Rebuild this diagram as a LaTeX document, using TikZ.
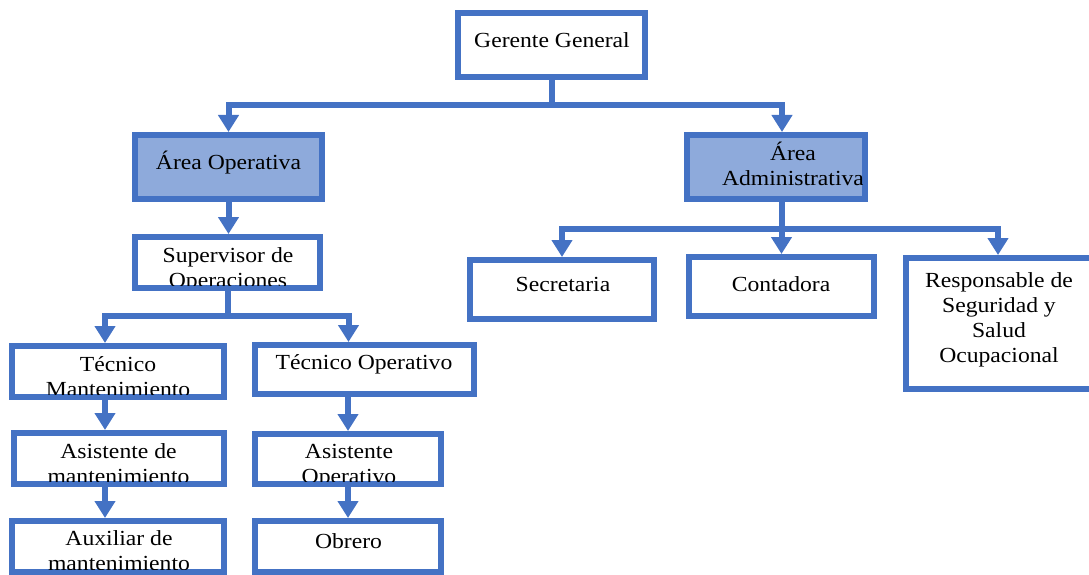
\documentclass[tikz,border=0pt]{standalone}
\usepackage{fontspec}
\setmainfont{Liberation Serif}[FakeStretch=1.1]
\usetikzlibrary{arrows.meta}
\definecolor{orgblue}{HTML}{4472C4}
\definecolor{areafill}{HTML}{8EAADB}
% fixed height for the first line of every label
\newcommand\firstline{\rule{0pt}{20pt}}
% label of a box, clipped to the inside of its border:
% #1 box name, #2 label name, #3 position of the label top, #4 text
\newcommand\boxlabel[4]{%
  \begin{scope}
    \clip ([shift={(6pt,-6pt)}]#1.north west) rectangle ([shift={(-6pt,6pt)}]#1.south east);
    \node[lbl] (#2) at (#3) {\firstline #4};
  \end{scope}}
\tikzset{
  box/.style={draw=orgblue, line width=6pt, fill=white, inner sep=0pt},
  area/.style={box, fill=areafill},
  lbl/.style={inner sep=0pt, align=center, anchor=north, font=\fontsize{21.5}{25}\selectfont},
  link/.style={draw=orgblue, line width=6pt},
  arrow/.style={link, -{Triangle[width=20pt,length=17pt]}},
}
\begin{document}
\begin{tikzpicture}[x=1pt,y=-1pt]
\useasboundingbox (0,0) rectangle (1089,575);
\clip (0,0) rectangle (1089,575);

% top level
\node[box, minimum width=187pt, minimum height=64pt] (gg) at (551.5,45) {};
\boxlabel{gg}{gg-t}{552,27}{Gerente General}

% areas
\node[area, minimum width=187pt, minimum height=64pt] (ao) at (228.5,167) {};
\boxlabel{ao}{ao-t}{228.5,149}{Área Operativa}
\node[area, minimum width=178pt, minimum height=64pt] (aa) at (776,167) {};
\boxlabel{aa}{aa-t}{793,140}{Área\\Administrativa}

% operative branch
\node[box, minimum width=185pt, minimum height=51pt] (sup) at (227.5,262.5) {};
\boxlabel{sup}{sup-t}{228,242}{Supervisor de\\Operaciones}
\node[box, minimum width=212pt, minimum height=51pt] (tm) at (118,371.5) {};
\boxlabel{tm}{tm-t}{118,351}{Técnico\\Mantenimiento}
\node[box, minimum width=210pt, minimum height=51pt] (am) at (119,458.5) {};
\boxlabel{am}{am-t}{118.5,438}{Asistente de\\mantenimiento}
\node[box, minimum width=212pt, minimum height=51pt] (ax) at (118,546.5) {};
\boxlabel{ax}{ax-t}{119,525}{Auxiliar de\\mantenimiento}
\node[box, minimum width=219pt, minimum height=49pt] (to) at (364.5,369.5) {};
\boxlabel{to}{to-t}{364,349}{Técnico Operativo}
\node[box, minimum width=186pt, minimum height=50pt] (ao2) at (348,459) {};
\boxlabel{ao2}{ao2-t}{349,438}{Asistente\\Operativo}
\node[box, minimum width=186pt, minimum height=51pt] (ob) at (348,546.5) {};
\boxlabel{ob}{ob-t}{348.5,528}{Obrero}

% administrative branch
\node[box, minimum width=184pt, minimum height=59pt] (sec) at (562,289.5) {};
\boxlabel{sec}{sec-t}{563,271}{Secretaria}
\node[box, minimum width=185pt, minimum height=59pt] (con) at (781.5,286.5) {};
\boxlabel{con}{con-t}{781,271}{Contadora}
\node[box, minimum width=188pt, minimum height=131pt] (rsp) at (1000,323.5) {};
\boxlabel{rsp}{rsp-t}{999,267}{Responsable de\\Seguridad y\\Salud\\Ocupacional}

% connectors from the general manager
\coordinate (gbus) at (gg.south |- 0,105);
\draw[link] (gg.south) -- (gbus);
\draw[arrow] (gbus) -| (ao.north);
\draw[arrow] (gbus) -| ([xshift=6pt]aa.north);

% operative connectors
\draw[arrow] (ao.south) -- (ao.south |- sup.north);
\coordinate (sbus) at (sup.south |- 0,316);
\draw[link] (sup.south) -- (sbus);
\draw[arrow] (sbus) -| ([xshift=-13pt]tm.north);
\draw[arrow] (sbus) -| ([xshift=-16pt]to.north);
\draw[arrow] ([xshift=-13pt]tm.south) -- ([xshift=-13pt]tm.south |- am.north);
\draw[arrow] ([xshift=-13pt]tm.south |- am.south) -- ([xshift=-13pt]tm.south |- ax.north);
\draw[arrow] (ao2.north |- to.south) -- (ao2.north);
\draw[arrow] (ao2.south) -- (ob.north);

% administrative connectors
\coordinate (abus) at ([xshift=6pt]aa.south |- 0,229);
\draw[link] ([xshift=6pt]aa.south) -- (abus);
\draw[arrow] (abus) -| (sec.north);
\draw[arrow] (abus) -| (con.north);
\draw[arrow] (abus) -| ([xshift=-2pt]rsp.north);
\end{tikzpicture}
\end{document}
